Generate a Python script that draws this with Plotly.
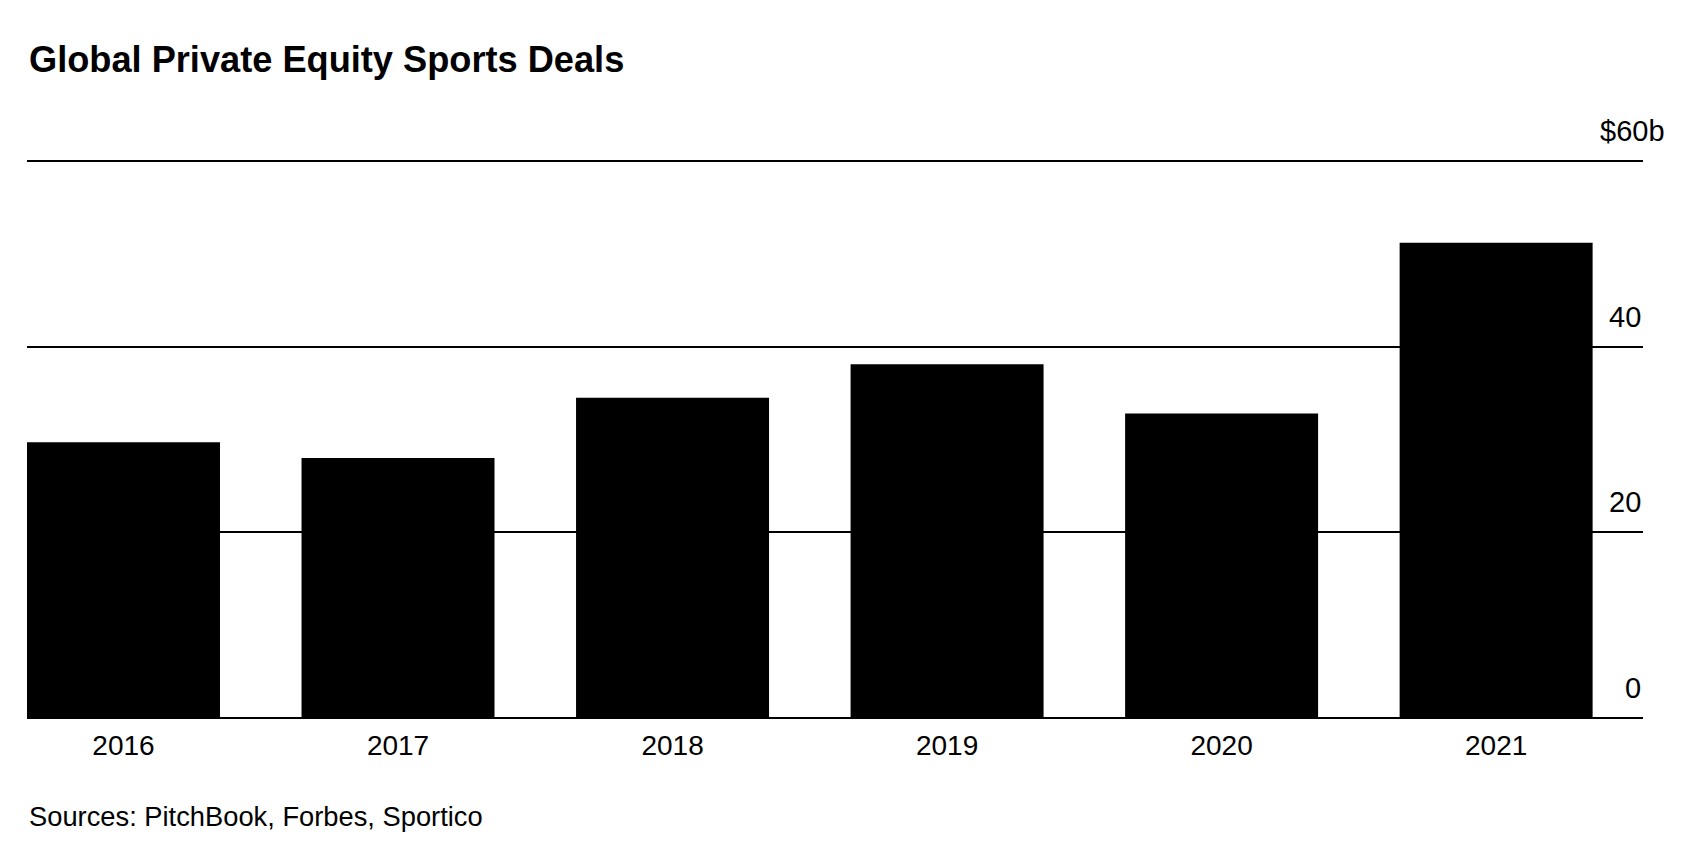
import plotly.graph_objects as go

years = ["2016", "2017", "2018", "2019", "2020", "2021"]
deals_bn = [29.7, 28.0, 34.5, 38.1, 32.8, 51.2]

tick_vals = [0, 20, 40, 60]
tick_text = ["0", "20", "40", "$60b"]

title_text = "Global Private Equity Sports Deals"
source_text = "Sources: PitchBook, Forbes, Sportico"

FONT = "Liberation Sans, Arial, sans-serif"

fig = go.Figure()
fig.add_trace(go.Bar(
    x=years, y=deals_bn,
    marker=dict(color="#000000", line=dict(width=0)),
    width=0.703,
    hoverinfo="x+y",
))

annotations = []
for v, t in zip(tick_vals, tick_text):
    annotations.append(dict(
        x=1, xref="paper", y=v, yref="y",
        text=t, showarrow=False,
        xanchor="right", yanchor="bottom",
        xshift=24 if t.endswith("b") else 0, yshift=12,
        font=dict(family=FONT, size=29, color="#000000"),
    ))
annotations.append(dict(
    x=0, xref="paper", y=-0.145, yref="paper",
    text=source_text, showarrow=False,
    xanchor="left", yanchor="top", xshift=0,
    font=dict(family=FONT, size=27.3, color="#000000"),
))

fig.update_layout(
    width=1696, height=856,
    margin=dict(l=27, r=53, t=158, b=138, pad=0),
    paper_bgcolor="white", plot_bgcolor="white",
    showlegend=False,
    title=dict(
        text="<b>" + title_text + "</b>",
        x=29 / 1696, xref="container", xanchor="left",
        y=1 - 72 / 856, yref="container", yanchor="bottom",
        font=dict(family=FONT, size=36.2, color="#000000"),
        pad=dict(l=0, t=0, b=0, r=0),
    ),
    xaxis=dict(
        type="category",
        range=[-0.3515, 5.535],
        showgrid=False, showline=False, zeroline=False,
        ticks="outside", ticklen=2, tickcolor="rgba(0,0,0,0)",
        tickfont=dict(family=FONT, size=28, color="#000000"),
        fixedrange=True,
    ),
    yaxis=dict(
        range=[0, 60.323],
        tickvals=tick_vals,
        showticklabels=False,
        showgrid=True, gridcolor="#000000", gridwidth=2,
        zeroline=True, zerolinecolor="#000000", zerolinewidth=2,
        showline=False,
        fixedrange=True,
    ),
    annotations=annotations,
)

fig.write_html("out.html")
